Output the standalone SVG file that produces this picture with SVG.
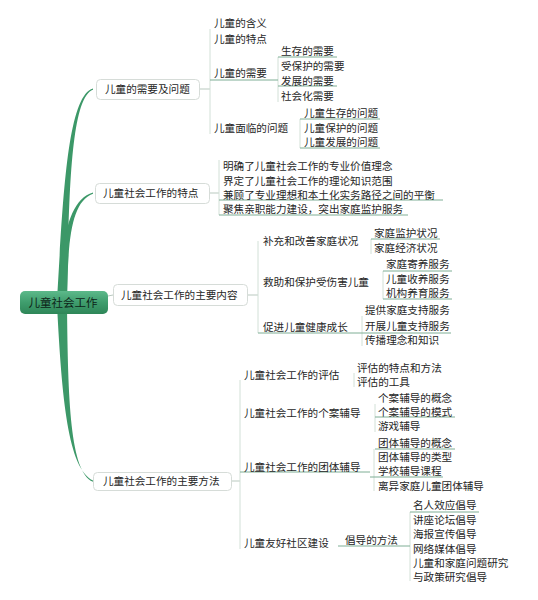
<svg xmlns="http://www.w3.org/2000/svg" width="538" height="600" viewBox="0 0 538 600">
<defs>
<linearGradient id="rootGrad" x1="0" y1="0" x2="0" y2="1">
<stop offset="0" stop-color="#5cb98a"/>
<stop offset="0.5" stop-color="#3f9d6d"/>
<stop offset="1" stop-color="#2e8658"/>
</linearGradient>
<style>
text{font-family:"Noto Sans CJK SC","Noto Sans",sans-serif;font-size:10.6px;fill:#262626;}
.root{font-size:11.5px;fill:#0d2418;}
.box{fill:#fff;stroke:#d6dcd8;stroke-width:1;}
.br{stroke:#d2e0d7;stroke-width:1;fill:none;}
.ul{stroke:#7fae95;stroke-width:1;fill:none;}
.stub{stroke:#b9c9bf;stroke-width:1;fill:none;}
.main{fill:#3c9868;}
</style>
</defs>
<rect width="538" height="600" fill="#fff"/>

<g id="connectors">
<path class="main" d="M57 300 C63 200 67 96 93 88.5 L93 89.8 C70 98 69 200 67 300 Z"/>
<path class="main" d="M58 300 C62 240 68 200 93 192.5 L93 193.8 C71 202 68 240 67 300 Z"/>
<path class="main" d="M57 305 C62 400 68 468 93 480.5 L93 481.8 C70 472 68 400 67 305 Z"/>
<line class="stub" x1="108" y1="296" x2="113" y2="295"/>
<line class="stub" x1="200" y1="89" x2="210" y2="89"/>
<line class="stub" x1="210" y1="193" x2="219" y2="193"/>
<line class="stub" x1="248" y1="295" x2="258" y2="295"/>
<line class="stub" x1="232" y1="481" x2="240" y2="481"/>
<line class="br" x1="210" y1="29" x2="210" y2="134"/>
<line class="br" x1="278" y1="57" x2="278" y2="102"/>
<line class="br" x1="300" y1="119" x2="300" y2="148"/>
<line class="br" x1="219" y1="160" x2="219" y2="215"/>
<line class="br" x1="258" y1="241" x2="258" y2="333"/>
<line class="br" x1="371" y1="239" x2="371" y2="254"/>
<line class="br" x1="383" y1="271" x2="383" y2="299"/>
<line class="br" x1="362" y1="316" x2="362" y2="346"/>
<line class="br" x1="240" y1="380" x2="240" y2="549"/>
<line class="br" x1="354" y1="373" x2="354" y2="387"/>
<line class="br" x1="375" y1="404" x2="375" y2="432"/>
<line class="br" x1="374" y1="449" x2="374" y2="491"/>
<line class="br" x1="410" y1="512" x2="410" y2="581"/>
<line class="ul" x1="210" y1="80" x2="278" y2="80"/>
<line class="ul" x1="278" y1="57" x2="337" y2="57"/>
<line class="ul" x1="278" y1="86" x2="337" y2="86"/>
<line class="ul" x1="300" y1="119" x2="380" y2="119"/>
<line class="ul" x1="300" y1="148" x2="380" y2="148"/>
<line class="ul" x1="219" y1="200" x2="443" y2="200"/>
<line class="ul" x1="219" y1="215" x2="408" y2="215"/>
<line class="ul" x1="371" y1="239" x2="440" y2="239"/>
<line class="ul" x1="383" y1="271" x2="452" y2="271"/>
<line class="ul" x1="383" y1="299" x2="452" y2="299"/>
<line class="ul" x1="258" y1="333" x2="451" y2="333"/>
<line class="ul" x1="240" y1="472" x2="370" y2="472"/>
<line class="ul" x1="375" y1="417" x2="455" y2="417"/>
<line class="ul" x1="375" y1="449" x2="455" y2="449"/>
<line class="ul" x1="370" y1="477" x2="443" y2="477"/>
<line class="ul" x1="338" y1="546" x2="410" y2="546"/>
<line class="ul" x1="410" y1="512" x2="479" y2="512"/>
</g>

<g id="root">
<rect x="20" y="291" width="88" height="23" rx="5" fill="url(#rootGrad)"/>
<text class="root" x="63" y="306.5" text-anchor="middle">儿童社会工作</text>
</g>

<g id="b1">
<rect class="box" x="96.5" y="79.5" width="103" height="20" rx="4"/>
<text x="105" y="93">儿童的需要及问题</text>
</g>
<g id="b1-children">
<text x="214" y="27">儿童的含义</text>
<text x="214" y="43">儿童的特点</text>
<text x="214" y="77">儿童的需要</text>
<text x="214" y="132">儿童面临的问题</text>
<text x="281" y="55">生存的需要</text>
<text x="281" y="70">受保护的需要</text>
<text x="281" y="85">发展的需要</text>
<text x="281" y="100">社会化需要</text>
<text x="304" y="117">儿童生存的问题</text>
<text x="304" y="132">儿童保护的问题</text>
<text x="304" y="146">儿童发展的问题</text>
</g>

<g id="b2">
<rect class="box" x="95.5" y="183.5" width="114" height="20" rx="4"/>
<text x="103" y="197">儿童社会工作的特点</text>
</g>
<g id="b2-children">
<text x="223" y="170">明确了儿童社会工作的专业价值理念</text>
<text x="223" y="185">界定了儿童社会工作的理论知识范围</text>
<text x="223" y="199">兼顾了专业理想和本土化实务路径之间的平衡</text>
<text x="223" y="213">聚焦亲职能力建设，突出家庭监护服务</text>
</g>

<g id="b3">
<rect class="box" x="113.5" y="284.5" width="134" height="21" rx="4"/>
<text x="121" y="299">儿童社会工作的主要内容</text>
</g>
<g id="b3-children">
<text x="263" y="245">补充和改善家庭状况</text>
<text x="263" y="286">救助和保护受伤害儿童</text>
<text x="263" y="331">促进儿童健康成长</text>
<text x="374" y="237">家庭监护状况</text>
<text x="374" y="252">家庭经济状况</text>
<text x="386" y="268">家庭寄养服务</text>
<text x="386" y="283">儿童收养服务</text>
<text x="386" y="297">机构养育服务</text>
<text x="365" y="314">提供家庭支持服务</text>
<text x="365" y="330">开展儿童支持服务</text>
<text x="365" y="344">传播理念和知识</text>
</g>

<g id="b4">
<rect class="box" x="93.5" y="472.5" width="138" height="18" rx="4"/>
<text x="103" y="485">儿童社会工作的主要方法</text>
</g>
<g id="b4-children">
<text x="244" y="379">儿童社会工作的评估</text>
<text x="244" y="417">儿童社会工作的个案辅导</text>
<text x="244" y="471">儿童社会工作的团体辅导</text>
<text x="244" y="547">儿童友好社区建设</text>
<text x="357" y="371.5">评估的特点和方法</text>
<text x="357" y="385.5">评估的工具</text>
<text x="378" y="401.5">个案辅导的概念</text>
<text x="378" y="415.5">个案辅导的模式</text>
<text x="378" y="430">游戏辅导</text>
<text x="378" y="447">团体辅导的概念</text>
<text x="378" y="461">团体辅导的类型</text>
<text x="378" y="475">学校辅导课程</text>
<text x="378" y="490">离异家庭儿童团体辅导</text>
<text x="345" y="544">倡导的方法</text>
<text x="413" y="509">名人效应倡导</text>
<text x="413" y="523.5">讲座论坛倡导</text>
<text x="413" y="538">海报宣传倡导</text>
<text x="413" y="552.5">网络媒体倡导</text>
<text x="413" y="567">儿童和家庭问题研究</text>
<text x="413" y="581">与政策研究倡导</text>
</g>
</svg>
